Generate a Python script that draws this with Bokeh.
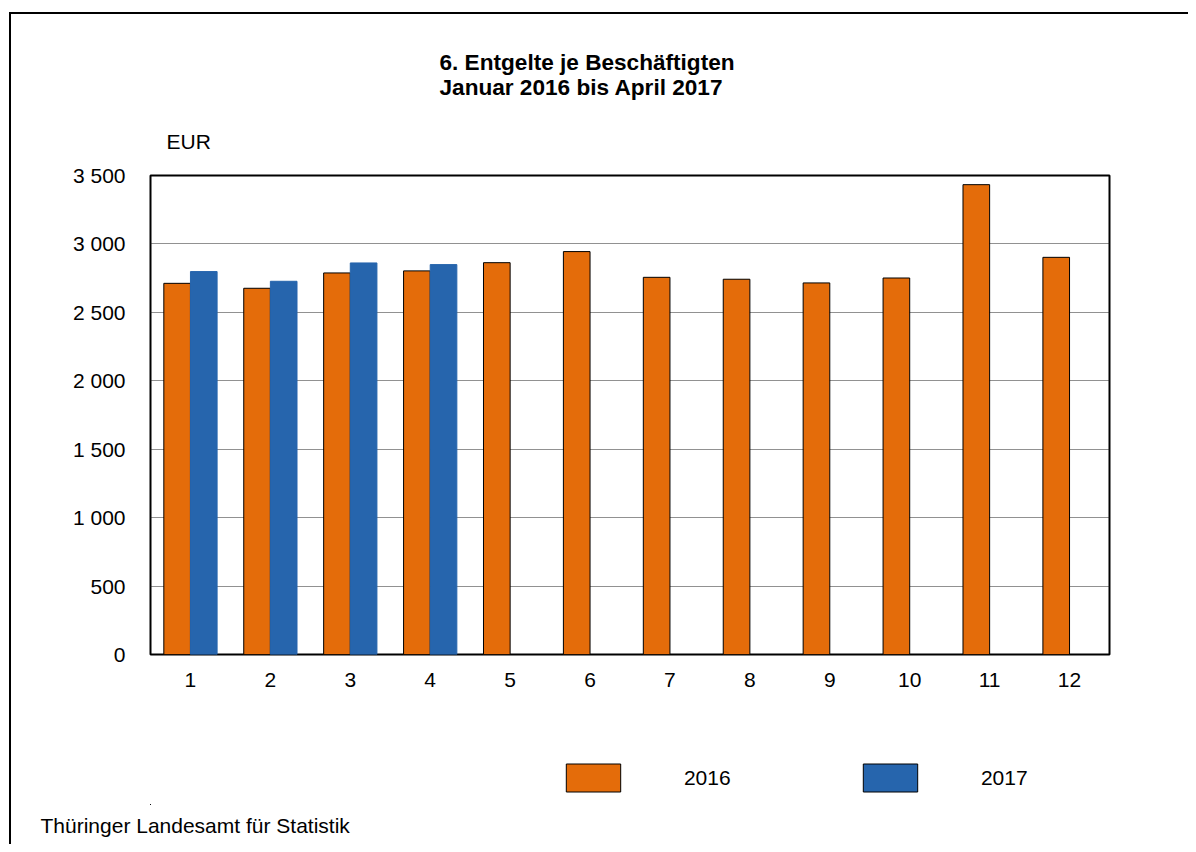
from bokeh.plotting import figure
from bokeh.layouts import column
from bokeh.models import (ColumnDataSource, Range1d, FixedTicker, Legend, LegendItem,
                          Title, InlineStyleSheet)
from bokeh.transform import dodge
from bokeh.embed import file_html
from bokeh.resources import INLINE

# ---------------- data ----------------
months = [1, 2, 3, 4, 5, 6, 7, 8, 9, 10, 11, 12]
month_labels = ["1", "2", "3", "4", "5", "6", "7", "8", "9", "10", "11", "12"]
entgelte_2016 = [2712, 2676, 2788, 2803, 2863, 2944, 2756, 2742, 2715, 2751, 3433, 2902]
months_2017 = [1, 2, 3, 4]
entgelte_2017 = [2798, 2727, 2861, 2849]
y_ticks = [0, 500, 1000, 1500, 2000, 2500, 3000, 3500]
y_tick_labels = ["0", "500", "1 000", "1 500", "2 000", "2 500", "3 000", "3 500"]
series_names = ["2016", "2017"]
title_lines = ["6. Entgelte je Beschäftigten", "Januar 2016 bis April 2017"]
unit_label = "EUR"
source_label = "Thüringer Landesamt für Statistik"

# ---------------- style ----------------
FONT = "Liberation Sans"
FS = "21px"
ORANGE = "#E46C0A"
BLUE = "#2665AD"
W = 1188
H_MAIN = 720
H_FOOT = 124

src16 = ColumnDataSource(dict(month=months, value=entgelte_2016))
src17 = ColumnDataSource(dict(month=months_2017, value=entgelte_2017))

p = figure(width=W, height=H_MAIN, output_backend="svg", toolbar_location=None,
           x_range=Range1d(0.5, 12.5), y_range=Range1d(0, 3500),
           min_border_left=150, min_border_right=79,
           min_border_top=175, min_border_bottom=66)
p.background_fill_color = "white"
p.border_fill_color = "white"
p.outline_line_color = "black"
p.outline_line_width = 2
p.outline_line_alpha = 1

# grid
p.xgrid.visible = False
p.ygrid.ticker = FixedTicker(ticks=y_ticks)
p.ygrid.grid_line_color = "#222222"
p.ygrid.grid_line_dash = "1 1"
p.ygrid.grid_line_width = 1

# axes
for ax in (p.xaxis[0], p.yaxis[0]):
    ax.axis_line_color = None
    ax.major_tick_line_color = None
    ax.minor_tick_line_color = None
    ax.major_tick_out = 0
    ax.major_tick_in = 0
    ax.major_label_text_font = FONT
    ax.major_label_text_font_size = FS
    ax.major_label_text_color = "black"

p.yaxis.ticker = FixedTicker(ticks=y_ticks)
p.yaxis.major_label_overrides = dict(zip(y_ticks, y_tick_labels))
p.yaxis.major_label_standoff = 25
p.xaxis.ticker = FixedTicker(ticks=months)
p.xaxis.major_label_overrides = dict(zip(months, month_labels))
p.xaxis.major_label_standoff = 18

# bars
p.vbar(x=dodge("month", -1 / 6, range=p.x_range), top="value", width=1 / 3,
       source=src16, fill_color=ORANGE, line_color="black", line_width=1)
p.vbar(x=dodge("month", 1 / 6, range=p.x_range), top="value", width=1 / 3,
       source=src17, fill_color=BLUE, line_color=BLUE, line_width=1)

# texts above the frame (first added = nearest to the frame)
p.add_layout(Title(text=unit_label, align="left", offset=16, standoff=45,
                   text_font=FONT, text_font_size=FS, text_font_style="normal",
                   text_color="black"), "above")
p.add_layout(Title(text=title_lines[0] + "\n" + title_lines[1], align="left", offset=289,
                   standoff=12, text_font=FONT, text_font_size="22.6px",
                   text_font_style="bold", text_color="black"), "above")

# ---------------- footer strip: legend + source ----------------
# both ranges lie away from the data, so the swatch bars fall outside this strip
# and only feed the legend
f = figure(width=W, height=H_FOOT, output_backend="svg", toolbar_location=None,
           x_range=Range1d(100, 101), y_range=Range1d(4000, 4500),
           x_axis_type=None, y_axis_type=None,
           min_border_left=150, min_border_right=79, min_border_top=0, min_border_bottom=0)
f.outline_line_color = None
f.grid.visible = False
f.background_fill_color = "white"
f.border_fill_color = "white"

leg16 = f.vbar(x="month", top="value", width=1 / 3, source=src16,
               fill_color=ORANGE, line_color="black", line_width=1)
leg17 = f.vbar(x="month", top="value", width=1 / 3, source=src17,
               fill_color=BLUE, line_color="black", line_width=1)

f.add_layout(Title(text=source_label, align="left", offset=-110, standoff=15,
                   text_font=FONT, text_font_size=FS, text_font_style="normal",
                   text_color="black"), "below")

legend = Legend(items=[LegendItem(label=series_names[0], renderers=[leg16]),
                       LegendItem(label=series_names[1], renderers=[leg17])],
                location=(408.9, 9), orientation="horizontal",
                glyph_width=68, glyph_height=35, label_standoff=57, label_width=172,
                spacing=0, padding=0, margin=0,
                border_line_alpha=0, background_fill_alpha=0,
                label_text_font=FONT, label_text_font_size=FS, label_text_color="black")
f.add_layout(legend)

page = column(p, f, spacing=0, stylesheets=[InlineStyleSheet(css="""
:host { position: relative; }
:host::after {
  content: ""; position: absolute; left: 9px; top: 12px; right: 0; bottom: 0;
  border-left: 2px solid black; border-top: 2px solid black;
  pointer-events: none; z-index: 100;
}
""")])

with open("out.html", "w", encoding="utf-8") as fh:
    fh.write(file_html(page, INLINE))
